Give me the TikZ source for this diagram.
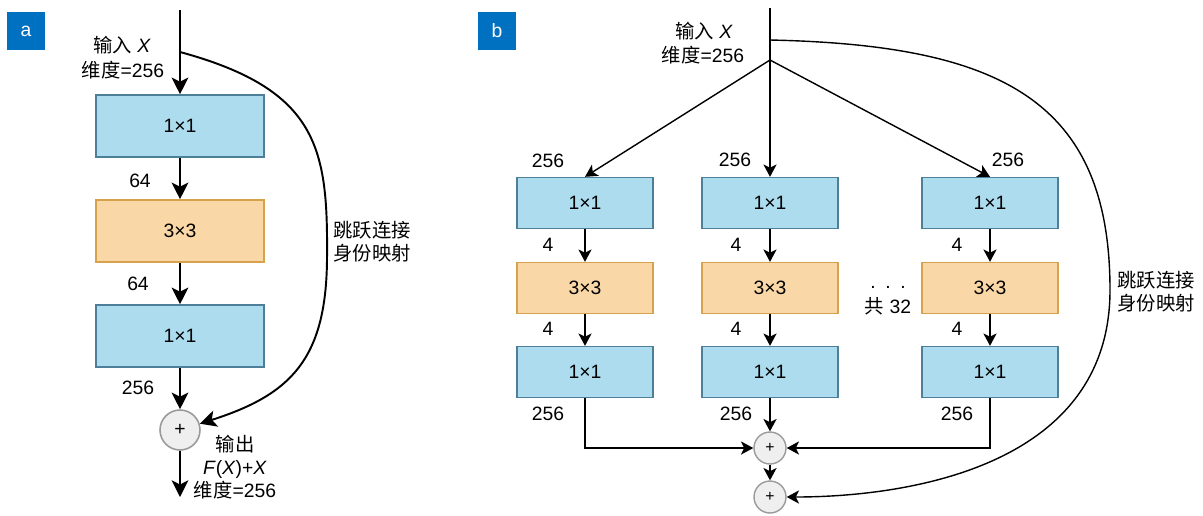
\documentclass[tikz,border=0pt]{standalone}
\usepackage{fontspec}
\setmainfont{Liberation Sans}
\newfontfamily\cjk{Noto Sans CJK SC}
\usepackage{xcolor}
\usetikzlibrary{arrows.meta}

\definecolor{convfill}{HTML}{ADDCEF}
\definecolor{convline}{HTML}{4D7F99}
\definecolor{groupfill}{HTML}{FAD7A6}
\definecolor{groupline}{HTML}{D6A24C}
\definecolor{sumfill}{HTML}{EFEFEF}
\definecolor{sumline}{HTML}{9A9A9A}
\definecolor{tagblue}{HTML}{0070C0}

\tikzset{
	tagbox/.style={fill=tagblue, text=white, minimum size=0.76cm, inner sep=0pt},
	conva/.style={draw=convline, fill=convfill, line width=0.9pt, minimum width=3.36cm, minimum height=1.24cm},
	convb/.style={draw=convline, fill=convfill, line width=0.8pt, minimum width=2.72cm, minimum height=1.02cm},
	groupconv/.style={fill=groupfill, draw=groupline},
	suma/.style={circle, draw=sumline, fill=sumfill, line width=0.9pt, minimum size=0.8cm, inner sep=0pt, font=\fontsize{11}{12}\selectfont},
	sumb/.style={circle, draw=sumline, fill=sumfill, line width=0.8pt, minimum size=0.64cm, inner sep=0pt, font=\fontsize{9}{10}\selectfont},
	arrowa/.style={-{Stealth[length=9.5pt,width=9.5pt,inset=2.4pt]}, line width=1.1pt},
	arrowb/.style={-{Stealth[length=7pt,width=7.5pt,inset=1.8pt]}, line width=0.8pt},
}

\begin{document}
\begin{tikzpicture}[x=0.02cm, y=-0.02cm, font=\fontsize{11}{13}\selectfont]
		\useasboundingbox (0,0) rectangle (1203,515);

		% ---- a ----
		\node[tagbox] (taga) at (26,31) {a};
		\coordinate (ina) at (180,10);
		\coordinate (splita) at (180,52);
		\coordinate (outa) at (180,497);
		\node (ina1) at (122,45) {{\cjk 输入} \textit{X}};
		\node (ina2) at (123,70) {{\cjk 维度}=256};
		\node[conva] (a1) at (180,126) {1×1};
		\node[conva, groupconv] (a2) at (180,231) {3×3};
		\node[conva] (a3) at (180,336) {1×1};
		\node[suma] (sa) at (180,430) {+};
		\node (da1) at (140,181) {64};
		\node (da2) at (138,284) {64};
		\node (da3) at (138,388) {256};
		\node[align=center] (skipa) at (372,242) {{\cjk 跳跃连接}\\{\cjk 身份映射}};
		\node[align=center] (outlabel) at (235,467) {{\cjk 输出}\\\textit{F}(\textit{X})+\textit{X}\\{\cjk 维度}=256};

		\draw[arrowa] (ina) -- (a1);
		\draw[arrowa] (a1) -- (a2);
		\draw[arrowa] (a2) -- (a3);
		\draw[arrowa] (a3) -- (sa);
		\draw[arrowa] (sa) -- (outa);
		\draw[arrowa] (splita) .. controls (320,90) and (328,150) .. (327,260) .. controls (326,360) and (290,395) .. (sa);

		% ---- b ----
		\node[tagbox] (tagb) at (497,31) {b};
		\coordinate (inb) at (770,8);
		\coordinate (skipb) at (770,40);
		\coordinate (forkb) at (770,60);
		\node (inb1) at (704,31) {{\cjk 输入} \textit{X}};
		\node (inb2) at (703,55) {{\cjk 维度}=256};

		\node[convb] (bl1) at (585,203) {1×1};
		\node[convb, groupconv] (bl2) at (585,288) {3×3};
		\node[convb] (bl3) at (585,372) {1×1};
		\node[convb] (bm1) at (770,203) {1×1};
		\node[convb, groupconv] (bm2) at (770,288) {3×3};
		\node[convb] (bm3) at (770,372) {1×1};
		\node[convb] (br1) at (990,203) {1×1};
		\node[convb, groupconv] (br2) at (990,288) {3×3};
		\node[convb] (br3) at (990,372) {1×1};
		\node[sumb] (sb1) at (770,448) {+};
		\node[sumb] (sb2) at (770,497) {+};

		\node (dl0) at (548,161) {256};
		\node (dl1) at (548,245) {4};
		\node (dl2) at (548,329) {4};
		\node (dl3) at (548,414) {256};
		\node (dm0) at (735,160) {256};
		\node (dm1) at (736,245) {4};
		\node (dm2) at (736,329) {4};
		\node (dm3) at (736,414) {256};
		\node (dr0) at (1008,160) {256};
		\node (dr1) at (957,245) {4};
		\node (dr2) at (957,329) {4};
		\node (dr3) at (957,414) {256};
		\node (dots) at (888,287) {.\hspace{5.5pt}.\hspace{5.5pt}.};
		\node (count) at (888,306) {{\cjk 共} 32};
		\node[align=center] (skiplabel) at (1156,292) {{\cjk 跳跃连接}\\{\cjk 身份映射}};

		\draw[arrowb] (inb) -- (bm1);
		\draw[arrowb] (forkb) -- (bl1.north);
		\draw[arrowb] (forkb) -- (br1.north);
		\draw[arrowb] (bl1) -- (bl2);
		\draw[arrowb] (bl2) -- (bl3);
		\draw[arrowb] (bm1) -- (bm2);
		\draw[arrowb] (bm2) -- (bm3);
		\draw[arrowb] (br1) -- (br2);
		\draw[arrowb] (br2) -- (br3);
		\draw[arrowb] (bl3) |- (sb1);
		\draw[arrowb] (br3) |- (sb1);
		\draw[arrowb] (bm3) -- (sb1);
		\draw[arrowb] (sb1) -- (sb2);
		\draw[arrowb] (skipb) .. controls (1000,45) and (1110,100) .. (1110,290) .. controls (1110,470) and (900,497) .. (sb2);
	\end{tikzpicture}
\end{document}
